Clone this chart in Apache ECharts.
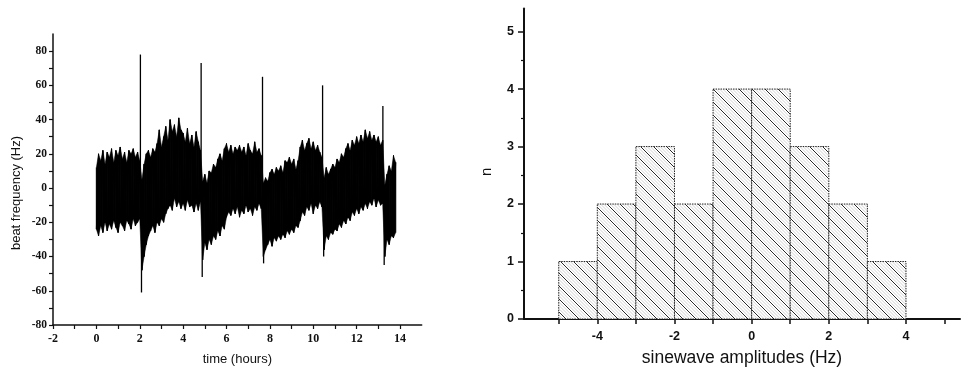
<!DOCTYPE html>
<html>
<head>
<meta charset="utf-8">
<script src="https://cdn.jsdelivr.net/npm/echarts@6/dist/echarts.min.js"></script>
<style>
html,body{margin:0;padding:0;background:#fff;}
#chart{width:961px;height:372px;}
</style>
</head>
<body>
<div id="chart"></div>
<script>
// ---- Left panel: beat frequency vs time (envelope of the dense trace) ----
const timeHours = [0.0,0.1,0.2,0.3,0.4,0.5,0.6,0.7,0.8,0.9,1.0,1.1,1.2,1.3,1.4,1.5,1.6,1.7,1.8,1.9,2.0,
  2.1,2.2,2.3,2.4,2.5,2.6,2.7,2.8,2.9,3.0,3.1,3.2,3.3,3.4,3.5,3.6,3.7,3.8,3.9,4.0,4.1,4.2,4.3,4.4,4.5,4.6,4.7,4.8,
  4.9,5.0,5.1,5.2,5.3,5.4,5.5,5.6,5.7,5.8,5.9,6.0,6.1,6.2,6.3,6.4,6.5,6.6,6.7,6.8,6.9,7.0,7.1,7.2,7.3,7.4,7.5,7.6,
  7.7,7.8,7.9,8.0,8.1,8.2,8.3,8.4,8.5,8.6,8.7,8.8,8.9,9.0,9.1,9.2,9.3,9.4,9.5,9.6,9.7,9.8,9.9,10.0,10.1,10.2,10.3,10.4,
  10.5,10.6,10.7,10.8,10.9,11.0,11.1,11.2,11.3,11.4,11.5,11.6,11.7,11.8,11.9,12.0,12.1,12.2,12.3,12.4,12.5,12.6,12.7,12.8,12.9,13.0,13.1,13.2,
  13.3,13.4,13.5,13.6,13.7,13.8];
const upperHz = [12,20,16,22,14,21,18,23,15,22,19,24,17,21,15,22,20,23,18,21,16,
  5,14,20,22,18,23,21,26,34,24,30,36,28,40,33,37,30,41,34,32,27,35,26,31,24,33,27,22,
  4,8,3,10,9,14,12,17,20,16,23,26,21,25,20,24,22,25,21,24,19,26,22,20,27,21,23,19,
  3,6,4,9,11,8,12,10,13,9,16,15,18,14,17,11,16,24,28,22,26,29,23,27,22,25,21,18,
  6,12,8,11,14,12,17,15,20,18,23,26,22,28,25,30,26,31,27,34,29,33,28,31,27,30,25,28,
  2,8,13,10,19,15];
const lowerHz = [-24,-28,-22,-26,-20,-25,-21,-24,-19,-23,-26,-20,-22,-25,-19,-21,-24,-18,-22,-20,-18,
  -48,-40,-33,-28,-25,-22,-26,-20,-22,-18,-20,-15,-12,-10,-13,-6,-11,-8,-12,-9,-13,-7,-11,-10,-14,-9,-13,-8,
  -42,-32,-36,-30,-33,-28,-30,-25,-28,-22,-24,-17,-14,-16,-12,-15,-11,-17,-13,-15,-10,-14,-12,-16,-11,-13,-9,-12,
  -40,-36,-33,-30,-34,-29,-31,-28,-30,-27,-29,-25,-27,-24,-26,-22,-23,-19,-14,-16,-11,-13,-9,-15,-10,-12,-8,-11,
  -36,-28,-30,-26,-27,-24,-25,-21,-23,-19,-21,-17,-19,-14,-16,-12,-15,-11,-13,-9,-12,-8,-10,-6,-11,-7,-10,-9,
  -40,-30,-33,-28,-29,-26];
// sharp spikes (up, then down) at each jump
const spikeTimes  = [2.03, 2.08, 4.83, 4.88, 7.66, 7.71, 10.43, 10.48, 13.21, 13.27];
const spikeTop    = [78, 2, 73, 0, 65, 2, 60, 3, 48, 0];
const spikeBottom = [-5, -61, -5, -52, -6, -44, -5, -40, -8, -45];

// ---- Right panel: histogram of sinewave amplitudes ----
const binLeft  = [-5,-4,-3,-2,-1,0,1,2,3];
const binRight = [-4,-3,-2,-1,0,1,2,3,4];
const counts   = [1,2,3,2,4,4,3,2,1];

const leftXTicks = [-2,-1,0,1,2,3,4,5,6,7,8,9,10,11,12,13,14];
const leftXLabels = [-2,0,2,4,6,8,10,12,14];
const leftYTicks = [-80,-70,-60,-50,-40,-30,-20,-10,0,10,20,30,40,50,60,70,80];
const leftYLabels = [-80,-60,-40,-20,0,20,40,60,80];
const rightXTicks = [-5,-4,-3,-2,-1,0,1,2,3,4,5];
const rightXLabels = [-4,-2,0,2,4];
const rightYTicks = [0,1,2,3,4,5];
const rightYMinor = [0.5,1.5,2.5,3.5,4.5];
const rightYLabels = [0,1,2,3,4,5];

// zigzag between upper and lower envelope to mimic the dense trace
const traceData = [];
for (let i = 0; i < timeHours.length; i++) {
  traceData.push([timeHours[i], upperHz[i]]);
  traceData.push([timeHours[i], lowerHz[i]]);
}
// band segments filling the dense core
const bandData = [];
for (let i = 0; i < timeHours.length - 1; i++) {
  bandData.push([timeHours[i], upperHz[i], lowerHz[i], timeHours[i+1], upperHz[i+1], lowerHz[i+1]]);
}
const spikeData = spikeTimes.map((t, i) => [t, spikeTop[i], spikeBottom[i]]);
const histData = binLeft.map((l, i) => [l, binRight[i], counts[i]]);

// hatch pattern
const pc = document.createElement('canvas');
const S = 13;
pc.width = S; pc.height = S;
const g = pc.getContext('2d');
g.fillStyle = '#fff'; g.fillRect(0,0,S,S);
function diag(off, color, w) {
  g.strokeStyle = color; g.lineWidth = w;
  for (let k = -1; k <= 1; k++) {
    g.beginPath();
    g.moveTo(off + k*S, 0);
    g.lineTo(off + k*S + S, S);
    g.stroke();
  }
}
diag(S/4, '#c8c8c8', 0.8);
diag(S/2, '#c8c8c8', 0.8);
diag(3*S/4, '#c8c8c8', 0.8);
diag(0, '#2a2a2a', 1);
const hatch = { image: pc, repeat: 'repeat' };

const serif = '"Liberation Serif", "DejaVu Serif", serif';
const sans = '"Liberation Sans", Arial, sans-serif';

const chart = echarts.init(document.getElementById('chart'), null, {renderer: 'canvas'});
chart.setOption({
  animation: false,
  backgroundColor: '#fff',
  grid: [
    {left: 53, top: 34, width: 368.7, height: 291},
    {left: 524, top: 8.6, width: 436, height: 312.4}
  ],
  xAxis: [
    {
      gridIndex: 0, type: 'value', min: -2, max: 15,
      name: 'time (hours)', nameLocation: 'middle', nameGap: 28,
      nameTextStyle: {fontFamily: sans, fontSize: 13, color: '#111'},
      axisLine: {onZero: false, lineStyle: {color: '#111', width: 1.5}},
      axisTick: {show: true, inside: false, length: 4, customValues: leftXTicks, lineStyle: {color: '#111', width: 1.2}},
      axisLabel: {customValues: leftXLabels, margin: 8, fontFamily: serif, fontSize: 12, fontWeight: 'bold', color: '#111'},
      splitLine: {show: false}
    },
    {
      gridIndex: 1, type: 'value', min: -5.9, max: 5.4,
      name: 'sinewave amplitudes (Hz)', nameLocation: 'middle', nameGap: 30,
      nameTextStyle: {fontFamily: sans, fontSize: 17.5, color: '#111'},
      axisLine: {onZero: false, lineStyle: {color: '#111', width: 2}},
      axisTick: {show: true, length: 5, customValues: rightXTicks, lineStyle: {color: '#111', width: 1.5}},
      axisLabel: {customValues: rightXLabels, margin: 11, fontFamily: sans, fontSize: 12.5, fontWeight: 'bold', color: '#111'},
      splitLine: {show: false}
    }
  ],
  yAxis: [
    {
      gridIndex: 0, type: 'value', min: -80, max: 90,
      name: 'beat frequency (Hz)', nameLocation: 'middle', nameGap: 30,
      nameTextStyle: {fontFamily: sans, fontSize: 13, color: '#111', padding: [0, 27, 0, 0]},
      axisLine: {onZero: false, lineStyle: {color: '#111', width: 1.5}},
      axisTick: {show: true, length: 4, customValues: leftYTicks, lineStyle: {color: '#111', width: 1.2}},
      axisLabel: {customValues: leftYLabels, margin: 6, fontFamily: serif, fontSize: 11.5, fontWeight: 'bold', color: '#111'},
      splitLine: {show: false}
    },
    {
      gridIndex: 1, type: 'value', min: 0, max: 5.4,
      name: 'n', nameLocation: 'middle', nameGap: 30,
      nameTextStyle: {fontFamily: sans, fontSize: 15, color: '#111', padding: [0, 16, 0, 0]},
      axisLine: {onZero: false, lineStyle: {color: '#111', width: 2}},
      axisTick: {show: true, length: 6, customValues: rightYTicks, lineStyle: {color: '#111', width: 1.5}},
      axisLabel: {customValues: rightYLabels, margin: 10, fontFamily: sans, fontSize: 12.5, fontWeight: 'bold', color: '#111'},
      splitLine: {show: false}
    },
    {
      gridIndex: 1, type: 'value', min: 0, max: 5.4, position: 'left',
      axisLine: {show: false, onZero: false},
      axisTick: {show: true, length: 3, customValues: rightYMinor, lineStyle: {color: '#111', width: 1.2}},
      axisLabel: {show: false},
      splitLine: {show: false}
    }
  ],
  series: [
    {
      type: 'custom', xAxisIndex: 0, yAxisIndex: 0,
      data: bandData,
      renderItem: function (params, api) {
        const a = api.coord([api.value(0), api.value(1)]);
        const b = api.coord([api.value(3), api.value(4)]);
        const c = api.coord([api.value(3), api.value(5)]);
        const d = api.coord([api.value(0), api.value(2)]);
        return {type: 'polygon', shape: {points: [a, b, c, d]}, style: {fill: '#000', stroke: '#000', lineWidth: 0.5}};
      },
      z: 2
    },
    {
      type: 'line', xAxisIndex: 0, yAxisIndex: 0,
      data: traceData, showSymbol: false, symbol: 'none',
      sampling: null,
      lineStyle: {color: '#000', width: 1},
      z: 3
    },
    {
      type: 'custom', xAxisIndex: 0, yAxisIndex: 0,
      data: spikeData,
      renderItem: function (params, api) {
        const a = api.coord([api.value(0), api.value(1)]);
        const b = api.coord([api.value(0), api.value(2)]);
        return {type: 'line', shape: {x1: a[0], y1: a[1], x2: b[0], y2: b[1]}, style: {stroke: '#000', lineWidth: 1.3}};
      },
      z: 4
    },
    {
      type: 'custom', xAxisIndex: 1, yAxisIndex: 1,
      data: histData,
      renderItem: function (params, api) {
        const p0 = api.coord([api.value(0), api.value(2)]);
        const p1 = api.coord([api.value(1), 0]);
        return {
          type: 'rect',
          shape: {x: p0[0], y: p0[1], width: p1[0] - p0[0], height: p1[1] - p0[1]},
          style: {fill: hatch, stroke: '#222', lineWidth: 1, lineDash: [1.5, 1]}
        };
      },
      z: 2
    }
  ]
});
</script>
</body>
</html>
